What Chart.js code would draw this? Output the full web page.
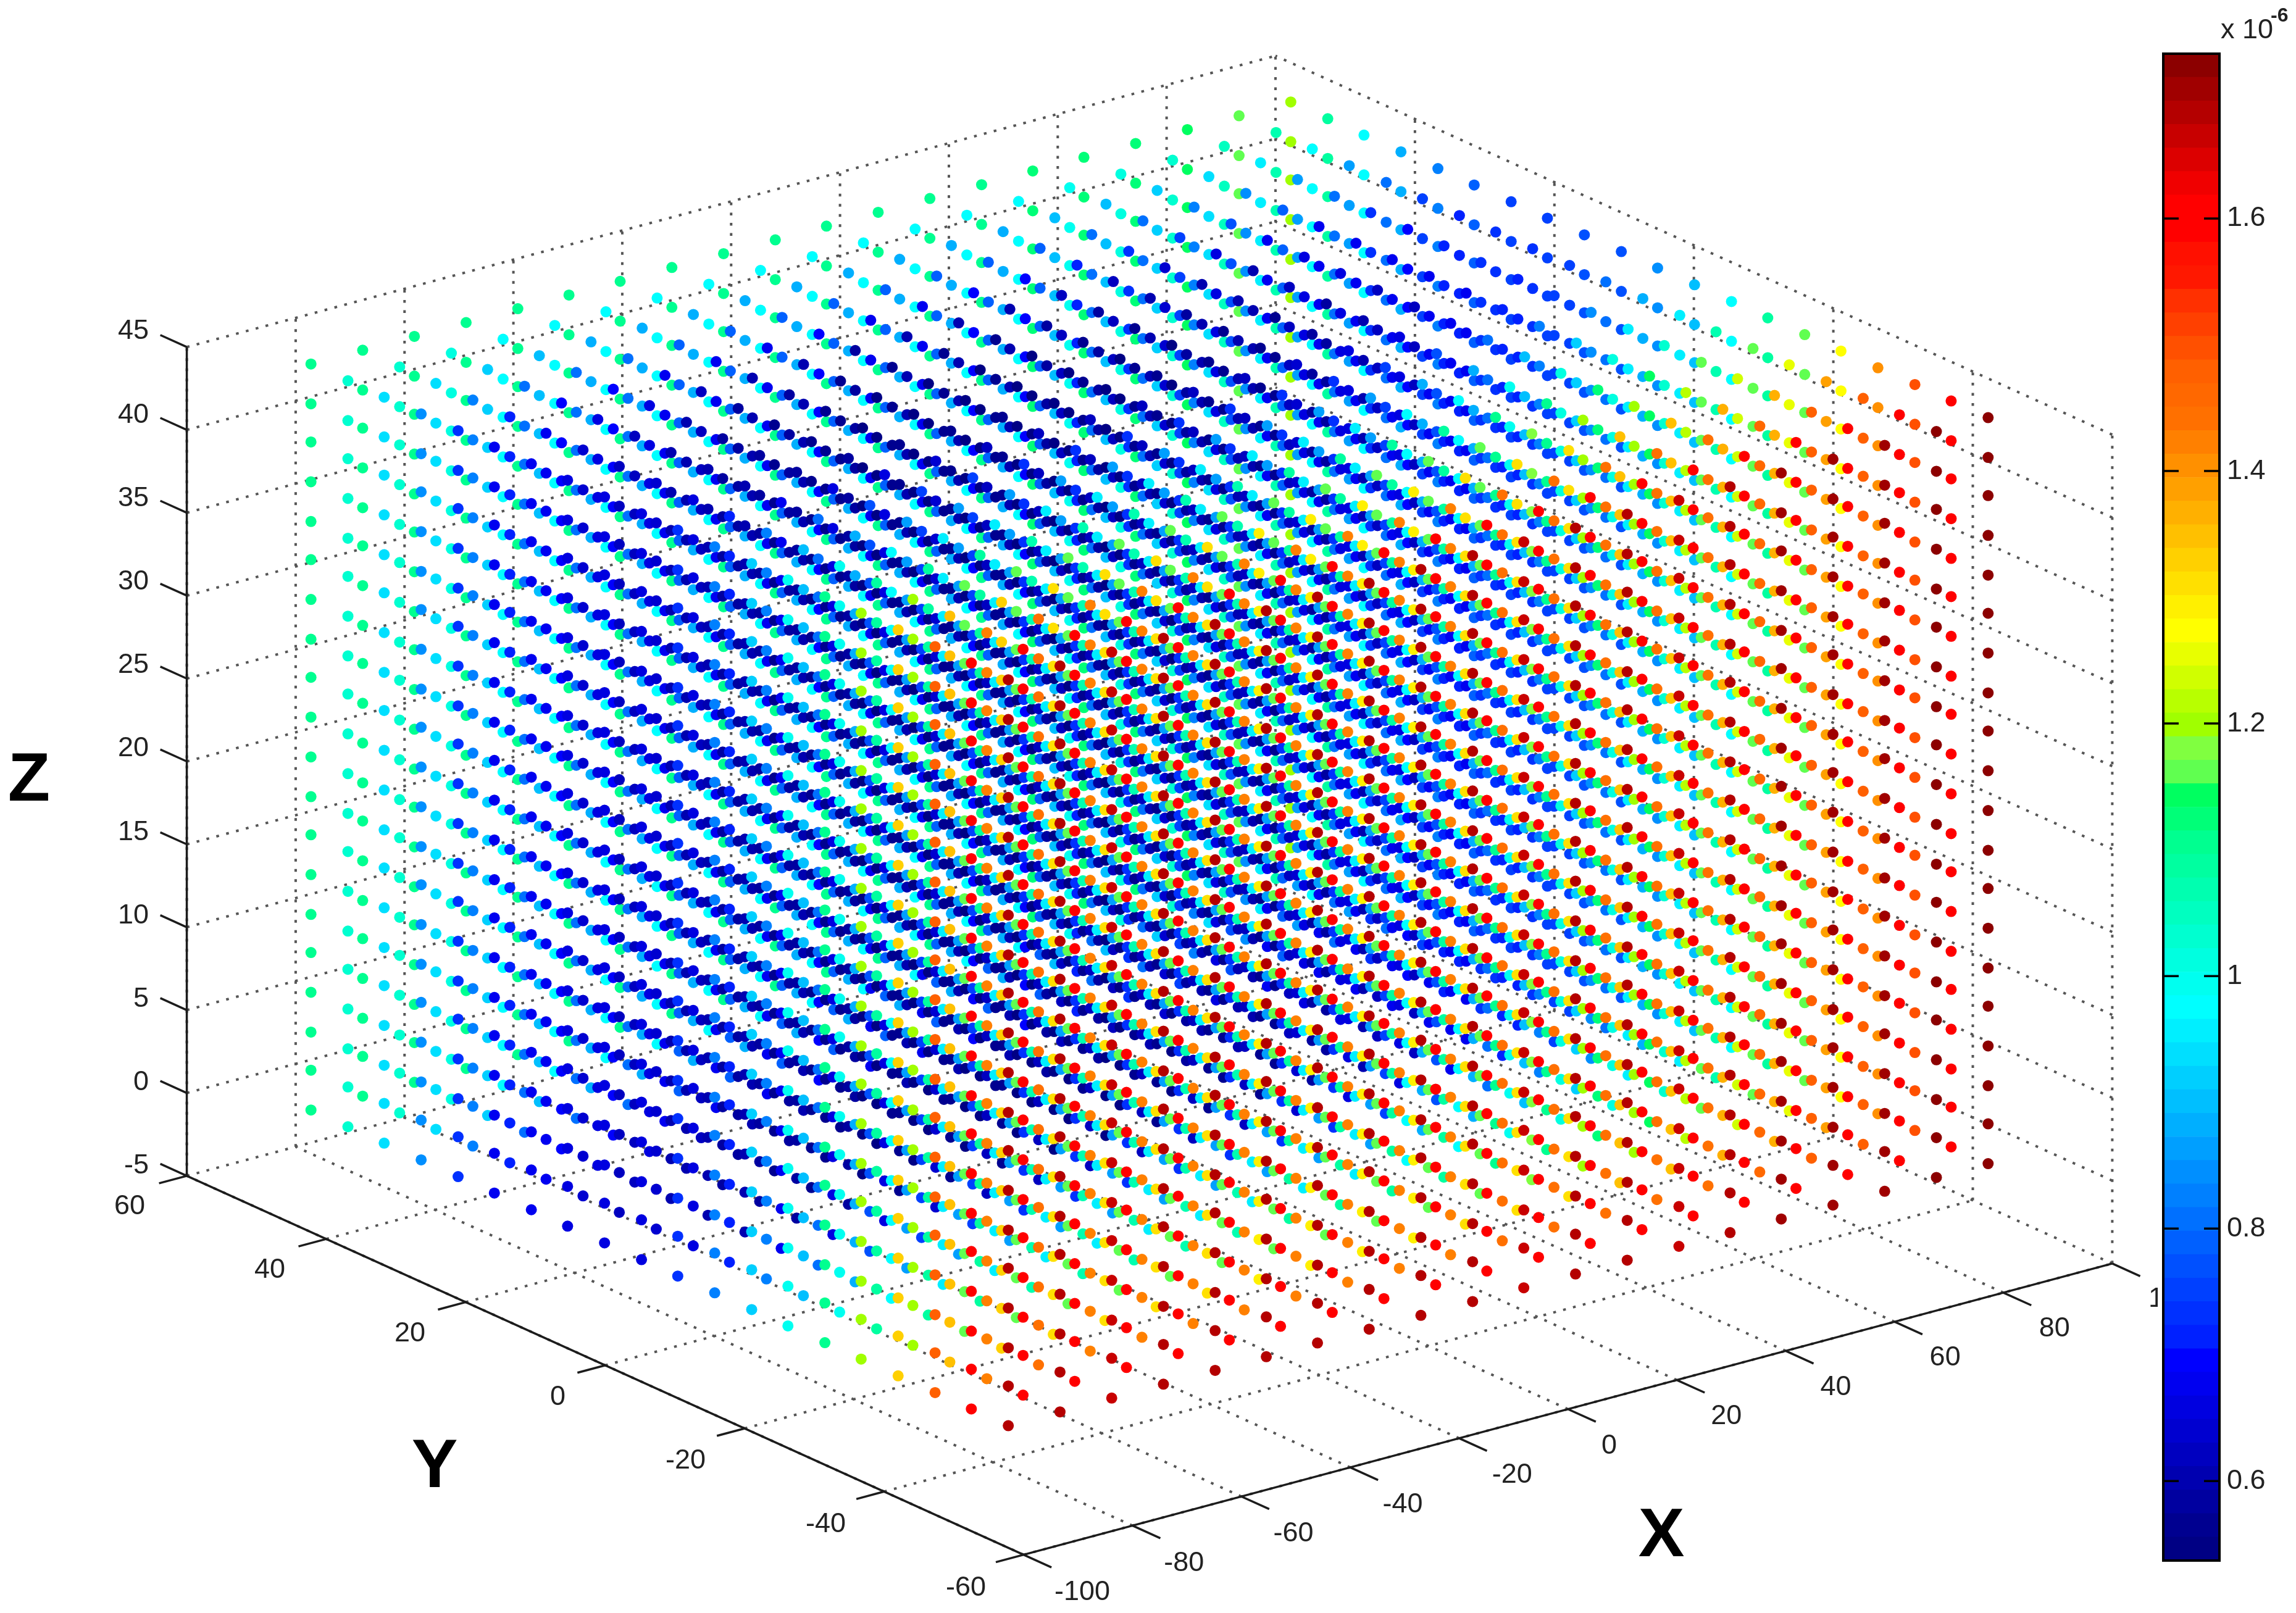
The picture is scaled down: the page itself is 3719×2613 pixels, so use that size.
<!DOCTYPE html>
<html>
<head>
<meta charset="utf-8">
<script src="https://cdn.jsdelivr.net/npm/chart.js@4"></script>
<style>
  html, body { margin: 0; padding: 0; background: #fff; overflow: hidden; }
  canvas { position: absolute; top: 0; display: block; }
  #cube { left: 0; }
  #cbar { left: 3495px; background: #fff; }
</style>
</head>
<body>
<canvas id="cube" width="3719" height="2613"></canvas>
<canvas id="cbar" width="224" height="2613"></canvas>
<script>
// sample positions along each axis
const gridX = [-90, -80.5, -71, -61.5, -52, -42.6, -33.2, -23.7, -14.2, -4.7, 4.7, 14.2, 23.7, 33.2, 42.6, 52, 61.5, 71, 80.5, 90];
const gridY = [50, 44.7, 39.5, 34.2, 28.9, 23.7, 18.4, 13.2, 7.9, 2.6, -2.6, -7.9, -13.2, -18.4, -23.7, -28.9, -34.2, -39.5, -44.7, -50];
const gridZ = [0, 2.4, 4.7, 7.1, 9.5, 11.8, 14.2, 16.6, 18.9, 21.3, 23.7, 26.1, 28.4, 30.8, 33.2, 35.5, 37.9, 40.3, 42.6, 45];

// values x 1e-6, one row per gridY entry, one column per gridX entry (same for every z)
const fieldRows = [
  [1.11, 1.11, 1.11, 1.11, 1.11, 1.11, 1.10, 1.10, 1.10, 1.10, 1.10, 1.10, 1.11, 1.11, 1.12, 1.12, 1.13, 1.15, 1.17, 1.20],
  [1.03, 1.04, 1.02, 0.98, 0.98, 0.98, 0.98, 0.98, 0.98, 0.98, 0.98, 0.98, 0.98, 0.98, 1.00, 1.02, 1.04, 1.05, 1.06, 1.09],
  [0.93, 0.93, 0.91, 0.90, 0.89, 0.88, 0.88, 0.88, 0.88, 0.88, 0.88, 0.89, 0.89, 0.90, 0.905, 0.915, 0.93, 0.955, 0.97, 0.98],
  [0.85, 0.83, 0.81, 0.80, 0.80, 0.79, 0.78, 0.78, 0.78, 0.78, 0.78, 0.785, 0.79, 0.80, 0.80, 0.83, 0.845, 0.86, 0.87, 0.88],
  [0.725, 0.71, 0.70, 0.69, 0.685, 0.68, 0.68, 0.69, 0.68, 0.68, 0.69, 0.70, 0.71, 0.735, 0.76, 0.77, 0.79, 0.80, 0.81, 0.83],
  [0.68, 0.67, 0.66, 0.65, 0.63, 0.61, 0.60, 0.58, 0.60, 0.60, 0.60, 0.62, 0.63, 0.64, 0.65, 0.67, 0.68, 0.74, 0.76, 0.79],
  [0.67, 0.64, 0.62, 0.60, 0.59, 0.58, 0.57, 0.56, 0.57, 0.57, 0.58, 0.59, 0.60, 0.60, 0.60, 0.65, 0.67, 0.69, 0.72, 0.76],
  [0.66, 0.63, 0.60, 0.58, 0.57, 0.56, 0.55, 0.55, 0.55, 0.55, 0.56, 0.57, 0.58, 0.60, 0.62, 0.65, 0.68, 0.71, 0.735, 0.76],
  [0.66, 0.64, 0.60, 0.58, 0.56, 0.55, 0.55, 0.54, 0.54, 0.54, 0.55, 0.55, 0.56, 0.57, 0.59, 0.63, 0.67, 0.725, 0.74, 0.765],
  [0.66, 0.65, 0.61, 0.59, 0.58, 0.57, 0.56, 0.56, 0.55, 0.55, 0.56, 0.56, 0.57, 0.58, 0.60, 0.63, 0.67, 0.72, 0.75, 0.77],
  [0.73, 0.71, 0.68, 0.66, 0.65, 0.64, 0.63, 0.62, 0.62, 0.62, 0.63, 0.63, 0.64, 0.65, 0.66, 0.68, 0.71, 0.76, 0.80, 0.85],
  [0.83, 0.82, 0.80, 0.77, 0.76, 0.75, 0.74, 0.74, 0.73, 0.73, 0.73, 0.74, 0.74, 0.75, 0.77, 0.80, 0.82, 0.85, 0.88, 0.895],
  [0.92, 0.895, 0.875, 0.865, 0.86, 0.86, 0.865, 0.865, 0.86, 0.86, 0.86, 0.86, 0.87, 0.875, 0.88, 0.90, 0.92, 0.95, 0.965, 0.975],
  [1.00, 0.985, 0.97, 0.965, 0.96, 0.96, 0.96, 0.96, 0.96, 0.96, 0.96, 0.965, 0.97, 0.975, 0.985, 1.01, 1.02, 1.04, 1.06, 1.09],
  [1.11, 1.09, 1.08, 1.08, 1.07, 1.06, 1.07, 1.07, 1.07, 1.08, 1.08, 1.08, 1.08, 1.10, 1.115, 1.13, 1.135, 1.155, 1.165, 1.17],
  [1.20, 1.19, 1.17, 1.17, 1.16, 1.16, 1.16, 1.16, 1.16, 1.16, 1.16, 1.17, 1.17, 1.18, 1.19, 1.20, 1.21, 1.23, 1.26, 1.28],
  [1.33, 1.34, 1.33, 1.32, 1.31, 1.31, 1.31, 1.30, 1.30, 1.30, 1.30, 1.31, 1.31, 1.32, 1.34, 1.35, 1.36, 1.37, 1.39, 1.41],
  [1.47, 1.43, 1.44, 1.43, 1.43, 1.43, 1.43, 1.43, 1.43, 1.43, 1.43, 1.44, 1.44, 1.44, 1.44, 1.45, 1.46, 1.48, 1.47, 1.50],
  [1.60, 1.60, 1.60, 1.60, 1.60, 1.60, 1.60, 1.60, 1.60, 1.60, 1.60, 1.60, 1.60, 1.60, 1.60, 1.60, 1.60, 1.60, 1.60, 1.60],
  [1.68, 1.68, 1.67, 1.68, 1.68, 1.68, 1.68, 1.68, 1.68, 1.68, 1.67, 1.68, 1.68, 1.67, 1.68, 1.70, 1.70, 1.70, 1.72, 1.72]
];

const xTicks = [-100, -80, -60, -40, -20, 0, 20, 40, 60, 80, 100];
const yTicks = [-60, -40, -20, 0, 20, 40, 60];
const zTicks = [-5, 0, 5, 10, 15, 20, 25, 30, 35, 40, 45];
const cbarTicks = [0.6, 0.8, 1, 1.2, 1.4, 1.6];
const cbarMin = 0.537;
const cbarMax = 1.7306;

// colorbar bands, bottom to top
const cbarColors = [
  '#000084', '#000090', '#0000A0', '#0000B0', '#0000C0', '#0000D0', '#0000E0', '#0000F0',
  '#0000FF', '#0020FF', '#0030FF', '#0040FF', '#0050FF', '#0060FF', '#0070FF', '#0080FF',
  '#008FFF', '#009FFF', '#00AFFF', '#00BFFF', '#00CFFF', '#00DFFF', '#00EFFF', '#00FFFF',
  '#00FFF0', '#00FFE0', '#00FFD0', '#00FFC0', '#00FFB0', '#00FFA0', '#00FF90', '#00FF78',
  '#00FF60', '#60FF50', '#80FF40', '#A0FF00', '#B8FF00', '#D0FF00', '#E8FF00', '#FFFF00',
  '#FFF000', '#FFE000', '#FFD000', '#FFC000', '#FFB000', '#FFA000', '#FF9000', '#FF8000',
  '#FF7000', '#FF6800', '#FF6000', '#FF5000', '#FF4000', '#FF3000', '#FF1800', '#FF1000',
  '#FF0000', '#FF0000', '#F00000', '#DC0000', '#C80000', '#B40000', '#A00000', '#8C0000'
];

const textColor = '#222';
const tickFont = '45px "Liberation Sans"';
const letterFont = 'bold 112px "Liberation Sans"';

// MATLAB default view(3), fitted to the box corners of the picture
function project(x, y, z) {
  return {
    x: 295 + (x + 100) * 8.86 + (60 - y) * 11.35,
    y: 1909 - (x + 100) * 2.375 + (60 - y) * 5.15 - (z + 5) * 27.04
  };
}

function nearness(x, y, z) {
  return -0.527 * (x + 100) / 200 - 0.687 * (y + 60) / 120 + 0.5 * (z + 5) / 50;
}

function colorFor(v) {
  const step = (cbarMax - cbarMin) / cbarColors.length;
  const idx = Math.floor((v - cbarMin) / step);
  return cbarColors[Math.max(0, Math.min(cbarColors.length - 1, idx))];
}

// build points, far ones first so the near ones end up on top
const marks = [];
gridZ.forEach(z => {
  gridY.forEach((y, j) => {
    gridX.forEach((x, i) => {
      marks.push({ p: project(x, y, z), d: nearness(x, y, z), c: colorFor(fieldRows[j][i]) });
    });
  });
});
marks.sort((a, b) => a.d - b.d);

function addLine(list, a, b) {
  list.push(project(a[0], a[1], a[2]), project(b[0], b[1], b[2]), { x: NaN, y: NaN });
}

const gridLines = [];
xTicks.forEach(x => {
  addLine(gridLines, [x, -60, -5], [x, 60, -5]);
  addLine(gridLines, [x, 60, -5], [x, 60, 45]);
});
yTicks.forEach(y => {
  addLine(gridLines, [-100, y, -5], [100, y, -5]);
  addLine(gridLines, [100, y, -5], [100, y, 45]);
});
zTicks.forEach(z => {
  addLine(gridLines, [-100, 60, z], [100, 60, z]);
  addLine(gridLines, [100, -60, z], [100, 60, z]);
});

const axisLines = [];
addLine(axisLines, [-100, 60, -5], [-100, 60, 45]);
addLine(axisLines, [-100, -60, -5], [-100, 60, -5]);
addLine(axisLines, [-100, -60, -5], [100, -60, -5]);
zTicks.forEach(z => addLine(axisLines, [-100, 60, z], [-100, 63.8, z]));
yTicks.forEach(y => addLine(axisLines, [-100, y, -5], [-105.1, y, -5]));
xTicks.forEach(x => addLine(axisLines, [x, -60, -5], [x, -64, -5]));

const cubeText = {
  id: 'cubeText',
  afterDraw(chart) {
    const ctx = chart.ctx;
    ctx.save();
    ctx.fillStyle = textColor;
    ctx.textBaseline = 'middle';
    ctx.font = tickFont;
    ctx.textAlign = 'right';
    zTicks.forEach(z => {
      const p = project(-100, 60, z);
      ctx.fillText(String(z), p.x - 54, p.y - 20);
    });
    yTicks.forEach(y => {
      const p = project(-100, y, -5);
      ctx.fillText(String(y), p.x - 60, p.y + 46);
    });
    ctx.textAlign = 'left';
    xTicks.forEach(x => {
      const p = project(x, -60, -5);
      ctx.fillText(String(x), p.x + 51, p.y + 53);
    });
    ctx.fillStyle = '#000';
    ctx.font = letterFont;
    ctx.textAlign = 'center';
    ctx.fillText('X', 2691, 2490);
    ctx.fillText('Y', 704, 2378);
    ctx.fillText('Z', 47, 1266);
    ctx.restore();
  }
};

new Chart(document.getElementById('cube'), {
  type: 'scatter',
  data: {
    datasets: [
      {
        label: 'points',
        data: marks.map(m => m.p),
        pointRadius: 9,
        pointBorderWidth: 0,
        pointBackgroundColor: marks.map(m => m.c),
        order: 0
      },
      {
        label: 'axes',
        data: axisLines,
        showLine: true,
        pointRadius: 0,
        borderColor: '#1c1c1c',
        borderWidth: 3.5,
        order: 1
      },
      {
        label: 'grid',
        data: gridLines,
        showLine: true,
        pointRadius: 0,
        borderColor: '#555',
        borderWidth: 4,
        borderDash: [4.5, 12],
        order: 2
      }
    ]
  },
  options: {
    responsive: false,
    animation: false,
    devicePixelRatio: 1,
    events: [],
    layout: { padding: 0 },
    plugins: { legend: { display: false }, tooltip: { enabled: false } },
    scales: {
      x: { type: 'linear', display: false, min: 0, max: 3719 },
      y: { type: 'linear', display: false, min: 0, max: 2613, reverse: true }
    }
  },
  plugins: [cubeText]
});

// colorbar
const cbarStep = (cbarMax - cbarMin) / cbarColors.length;

const cbarFrame = {
  id: 'cbarFrame',
  afterDatasetsDraw(chart) {
    const { ctx, chartArea: { left, right, top, bottom }, scales: { y } } = chart;
    ctx.save();
    ctx.strokeStyle = '#000';
    ctx.lineWidth = 4;
    ctx.strokeRect(left, top, right - left, bottom - top);
    ctx.lineWidth = 3.5;
    cbarTicks.forEach(v => {
      const py = y.getPixelForValue(v);
      ctx.beginPath();
      ctx.moveTo(left, py);
      ctx.lineTo(left + 25, py);
      ctx.moveTo(right, py);
      ctx.lineTo(right - 25, py);
      ctx.stroke();
    });
    ctx.fillStyle = textColor;
    ctx.textAlign = 'left';
    ctx.textBaseline = 'middle';
    ctx.font = tickFont;
    ctx.fillText('x 10', right + 2, 50);
    ctx.font = 'bold 32px "Liberation Sans"';
    ctx.fillText('-6', right + 83, 26);
    ctx.restore();
  }
};

new Chart(document.getElementById('cbar'), {
  type: 'bar',
  data: {
    labels: [''],
    datasets: cbarColors.map((c, i) => ({
      data: [[cbarMin + i * cbarStep, cbarMin + (i + 1) * cbarStep]],
      backgroundColor: c,
      borderWidth: 0,
      barPercentage: 1,
      categoryPercentage: 1,
      grouped: false
    }))
  },
  options: {
    responsive: false,
    animation: false,
    devicePixelRatio: 1,
    events: [],
    layout: { padding: { left: 9, top: 87, bottom: 85, right: 0 } },
    plugins: { legend: { display: false }, tooltip: { enabled: false } },
    scales: {
      x: { display: false },
      y: {
        position: 'right',
        min: cbarMin,
        max: cbarMax,
        grid: { display: false, drawTicks: false },
        border: { display: false },
        afterBuildTicks(scale) { scale.ticks = cbarTicks.map(v => ({ value: v })); },
        afterFit(scale) { scale.width = 124; },
        ticks: {
          color: textColor,
          padding: 12,
          autoSkip: false,
          font: { family: 'Liberation Sans', size: 45 },
          callback: v => String(v)
        }
      }
    }
  },
  plugins: [cbarFrame]
});
</script>
</body>
</html>
